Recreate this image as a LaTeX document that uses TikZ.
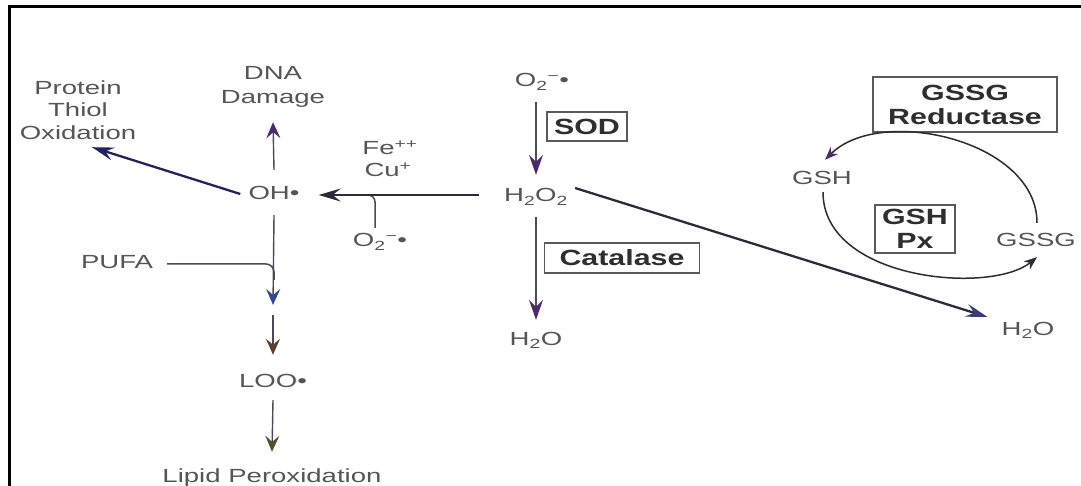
\documentclass[tikz,border=0pt]{standalone}
\usepackage{fontspec}
\setmainfont{Liberation Sans}
\newfontfamily\lbl[FakeStretch=1.45]{Liberation Sans}
\newfontfamily\blbl[FakeStretch=1.38]{Liberation Sans}
\usetikzlibrary{arrows.meta,calc}
\definecolor{txtgray}{HTML}{555555}
\definecolor{boldgray}{HTML}{2E2E2E}
\definecolor{boxgray}{HTML}{5A5A5A}
\definecolor{arrdark}{HTML}{2B2B3B}
\definecolor{arrgray}{HTML}{4A4A58}
\definecolor{purp}{HTML}{4A2A6A}
\definecolor{navy}{HTML}{3B3A80}
\definecolor{bluehead}{HTML}{34489A}
\definecolor{brownhead}{HTML}{5B4030}
\definecolor{olivehead}{HTML}{55502F}
\newcommand{\oxy}{O\textsubscript{2}\textsuperscript{−}•}
\tikzset{
  txt/.style={font=\lbl\fontsize{19}{23}\selectfont, text=txtgray, inner sep=2pt, align=center, text height=14pt, text depth=4pt},
  enz/.style={draw=boxgray, line width=1.1pt, font=\blbl\bfseries\fontsize{22}{24}\selectfont, text=boldgray, inner sep=0pt, align=center},
  arr/.style={line width=2pt, draw=arrdark, -{Stealth[length=22pt,width=13pt,inset=8pt]}},
  arrp/.style={line width=1.6pt, draw=arrgray, -{Stealth[length=20pt,width=14pt,inset=7pt,color=purp]}},
  arrthin/.style={line width=1.4pt, draw=arrgray, -{Stealth[length=16pt,width=14pt,inset=6pt,color=#1]}},
  lineb/.style={line width=1.5pt, draw=arrgray},
  cyc/.style={line width=1.5pt, draw=arrdark, -{Stealth[length=13pt,width=10pt,inset=4pt,color=purp]}},
}
\begin{document}
\begin{tikzpicture}[x=1pt,y=-1pt]
\useasboundingbox (0,0) rectangle (1081,486);
\fill[white] (0,0) rectangle (1081,486);
\draw[line width=3pt, black] (9,486) -- (9,7) -- (1081,7);

% nodes
\node[txt] (prot1) at (78,90) {Protein};
\node[txt] (prot2) at (78,112) {Thiol};
\node[txt] (prot) at (78,135) {Oxidation};
\node[txt] (dna1) at (273,75) {DNA};
\node[txt] (dna) at (273,99) {Damage};
\node[txt] (oh) at (274,195) {OH•};
\node[txt] (fe) at (390,150) {Fe\textsuperscript{++}};
\node[txt] (cu) at (388,172) {Cu\textsuperscript{+}};
\node[txt] (o2b) at (380,242) {\oxy};
\node[txt] (h2o2) at (536,197) {H\textsubscript{2}O\textsubscript{2}};
\node[txt] (o2t) at (542,82) {\oxy};
\node[enz, minimum width=80pt, minimum height=29pt] (sod) at (587,126.5) {SOD};
\node[enz, minimum width=155pt, minimum height=30pt] (cat) at (622,258) {Catalase};
\node[txt] (h2oa) at (536,340) {H\textsubscript{2}O};
\node[txt] (h2ob) at (1028,330) {H\textsubscript{2}O};
\node[enz, minimum width=184pt, minimum height=55pt] (gssgr) at (965,104.5) {GSSG\\Reductase};
\node[txt] (gsh) at (822,180) {GSH};
\node[txt] (gssg) at (1036,242) {GSSG};
\node[enz, minimum width=80pt, minimum height=48pt] (gshpx) at (915,229) {GSH\\Px};
\node[txt] (pufa) at (117,264) {PUFA};
\node[txt] (loo) at (273,382) {LOO•};
\node[txt] (lipid) at (272,477) {Lipid Peroxidation};
\coordinate (mid) at (273,310);

% connectors
\draw[arrthin=purp] ($(oh.north)+(0,-14)$) -- ($(dna.south)+(0,12)$);
\draw[arr, line width=2.3pt, draw=arrdark!80!blue] ($(oh.west)+(-6,-1)$) -- ($(prot.south)+(14,1)$);
\draw[lineb, rounded corners=7pt] ($(o2b.north)+(-5,-3)$) -- ($(o2b.north |- oh)+(-5,0)$) -- ($(o2b.north |- oh)+(-20,0)$);
\draw[arr] ($(h2o2.west |- oh)+(-23,0)$) -- ($(oh.east)+(17,0)$);
\draw[arrp] ($(o2t.south -| h2o2)+(0,9)$) -- ($(h2o2.north)+(0,-11)$);
\draw[arrp] ($(h2o2.south)+(0,9)$) -- ($(h2oa.north)+(0,-9)$);
\draw[arr, line width=2.3pt, -{Stealth[length=22pt,width=13pt,inset=8pt,color=navy]}] ($(h2o2.east)+(5,-9)$) -- ($(h2ob.west)+(-12,-13)$);
\draw[lineb, rounded corners=8pt] ($(pufa.east)+(12,0)$) -- (pufa.east -| oh) -- ($(pufa.east -| oh)+(0,16)$);
\draw[arrthin=bluehead] ($(oh.south)+(0,9)$) -- ($(mid)+(0,-5)$);
\draw[arrthin=brownhead] ($(mid)+(0,5)$) -- ($(loo.north)+(0,-16)$);
\draw[arrthin=olivehead] ($(loo.south)+(0,7)$) -- ($(lipid.north)+(0,-14)$);
\draw[cyc] ($(gssg.north)+(1,-8)$) .. controls (1037,140) and (880,105) .. ($(gsh.north)+(3,-9)$);
\draw[cyc, -{Stealth[length=13pt,width=10pt,inset=4pt,color=arrdark]}] ($(gsh.south)+(1,1)$) .. controls (823,280) and (990,295) .. ($(gssg.south)+(1,4)$);
\end{tikzpicture}
\end{document}
